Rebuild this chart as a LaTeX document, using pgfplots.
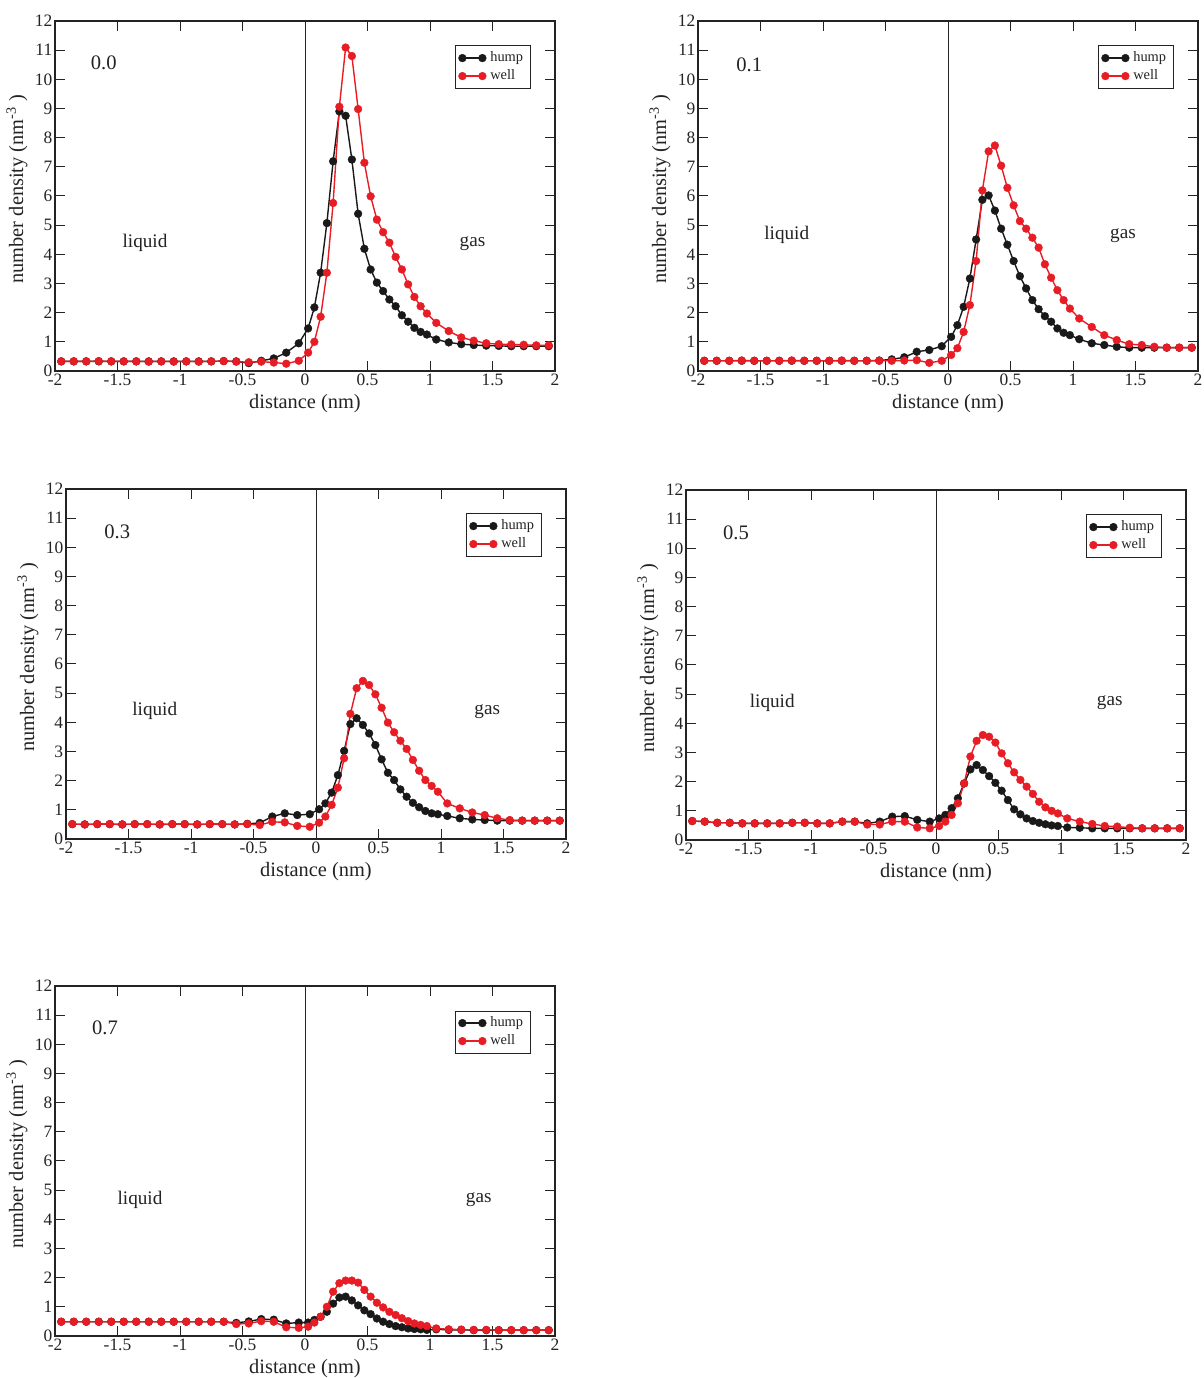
\documentclass[border=0pt]{standalone}
\usepackage{fontspec}
\setmainfont{Liberation Serif}
\usepackage{pgfplots}
\usepackage{pgfplotstable}
\pgfplotsset{compat=1.18}

\definecolor{myred}{RGB}{232,28,36}
\definecolor{myblack}{RGB}{25,25,25}
\definecolor{txt}{RGB}{35,35,35}

% panel 0.0
\pgfplotstableread{
x h w
-1.95 0.33 0.33
-1.85 0.33 0.33
-1.75 0.33 0.33
-1.65 0.33 0.34
-1.55 0.33 0.33
-1.45 0.33 0.33
-1.35 0.33 0.33
-1.25 0.33 0.32
-1.15 0.33 0.33
-1.05 0.33 0.32
-0.95 0.33 0.33
-0.85 0.33 0.32
-0.75 0.33 0.33
-0.65 0.34 0.34
-0.55 0.33 0.32
-0.45 0.27 0.30
-0.35 0.35 0.32
-0.25 0.43 0.29
-0.15 0.63 0.25
-0.05 0.95 0.35
0.025 1.46 0.63
0.075 2.18 1.00
0.125 3.37 1.86
0.175 5.07 3.37
0.225 7.19 5.76
0.275 8.90 9.06
0.325 8.75 11.09
0.375 7.25 10.80
0.425 5.39 8.98
0.475 4.19 7.14
0.525 3.48 5.99
0.575 3.03 5.19
0.625 2.74 4.76
0.675 2.45 4.40
0.725 2.22 3.91
0.775 1.91 3.48
0.825 1.69 2.97
0.875 1.48 2.54
0.925 1.34 2.22
0.975 1.25 1.97
1.05 1.08 1.65
1.15 0.98 1.37
1.25 0.92 1.15
1.35 0.89 1.04
1.45 0.87 0.95
1.55 0.86 0.92
1.65 0.85 0.91
1.75 0.85 0.90
1.85 0.85 0.88
1.95 0.85 0.88
}\tabA

% panel 0.1
\pgfplotstableread{
x h w
-1.95 0.35 0.35
-1.85 0.35 0.35
-1.75 0.35 0.35
-1.65 0.35 0.36
-1.55 0.35 0.35
-1.45 0.35 0.35
-1.35 0.35 0.35
-1.25 0.35 0.36
-1.15 0.35 0.35
-1.05 0.35 0.35
-0.95 0.35 0.35
-0.85 0.35 0.36
-0.75 0.35 0.35
-0.65 0.35 0.35
-0.55 0.36 0.35
-0.45 0.40 0.35
-0.35 0.47 0.36
-0.25 0.66 0.37
-0.15 0.72 0.28
-0.05 0.85 0.35
0.025 1.17 0.55
0.075 1.57 0.78
0.125 2.20 1.34
0.175 3.17 2.26
0.225 4.51 3.77
0.275 5.87 6.19
0.325 6.02 7.53
0.375 5.50 7.73
0.425 4.88 7.04
0.475 4.33 6.28
0.525 3.77 5.68
0.575 3.25 5.14
0.625 2.83 4.88
0.675 2.43 4.57
0.725 2.12 4.23
0.775 1.88 3.66
0.825 1.69 3.20
0.875 1.46 2.77
0.925 1.31 2.43
0.975 1.23 2.14
1.05 1.09 1.80
1.15 0.95 1.51
1.25 0.89 1.23
1.35 0.83 1.06
1.45 0.80 0.92
1.55 0.80 0.89
1.65 0.80 0.83
1.75 0.80 0.80
1.85 0.80 0.80
1.95 0.80 0.80
}\tabB

% panel 0.3
\pgfplotstableread{
x h w
-1.95 0.51 0.51
-1.85 0.50 0.50
-1.75 0.51 0.51
-1.65 0.51 0.51
-1.55 0.50 0.50
-1.45 0.51 0.51
-1.35 0.51 0.51
-1.25 0.50 0.50
-1.15 0.51 0.51
-1.05 0.51 0.51
-0.95 0.50 0.50
-0.85 0.51 0.51
-0.75 0.51 0.51
-0.65 0.50 0.50
-0.55 0.52 0.51
-0.45 0.55 0.48
-0.35 0.77 0.59
-0.25 0.88 0.57
-0.15 0.82 0.45
-0.05 0.85 0.42
0.025 1.02 0.56
0.075 1.22 0.77
0.125 1.59 1.17
0.175 2.19 1.76
0.225 3.02 2.77
0.275 3.94 4.29
0.325 4.14 5.17
0.375 3.91 5.42
0.425 3.62 5.28
0.475 3.22 4.96
0.525 2.73 4.50
0.575 2.27 3.99
0.625 2.02 3.66
0.675 1.70 3.37
0.725 1.45 3.09
0.775 1.24 2.71
0.825 1.09 2.34
0.875 0.96 2.02
0.925 0.88 1.82
0.975 0.85 1.62
1.05 0.79 1.22
1.15 0.71 1.05
1.25 0.67 0.91
1.35 0.65 0.82
1.45 0.63 0.71
1.55 0.63 0.65
1.65 0.63 0.63
1.75 0.63 0.63
1.85 0.63 0.63
1.95 0.63 0.63
}\tabC

% panel 0.5
\pgfplotstableread{
x h w
-1.95 0.65 0.65
-1.85 0.63 0.63
-1.75 0.59 0.59
-1.65 0.59 0.59
-1.55 0.57 0.57
-1.45 0.57 0.57
-1.35 0.57 0.57
-1.25 0.57 0.57
-1.15 0.59 0.59
-1.05 0.59 0.59
-0.95 0.57 0.57
-0.85 0.57 0.57
-0.75 0.63 0.63
-0.65 0.63 0.63
-0.55 0.57 0.53
-0.45 0.63 0.53
-0.35 0.80 0.63
-0.25 0.82 0.63
-0.15 0.69 0.43
-0.05 0.63 0.40
0.025 0.74 0.48
0.075 0.86 0.63
0.125 1.09 0.86
0.175 1.43 1.26
0.225 1.94 1.94
0.275 2.42 2.86
0.325 2.57 3.40
0.375 2.40 3.60
0.425 2.19 3.54
0.475 1.96 3.34
0.525 1.69 2.97
0.575 1.37 2.63
0.625 1.05 2.32
0.675 0.88 2.06
0.725 0.74 1.83
0.775 0.65 1.58
0.825 0.59 1.31
0.875 0.54 1.12
0.925 0.50 1.00
0.975 0.48 0.91
1.05 0.43 0.74
1.15 0.42 0.63
1.25 0.40 0.55
1.35 0.40 0.48
1.45 0.40 0.46
1.55 0.40 0.42
1.65 0.40 0.40
1.75 0.40 0.40
1.85 0.40 0.40
1.95 0.40 0.40
}\tabD

% panel 0.7
\pgfplotstableread{
x h w
-1.95 0.49 0.49
-1.85 0.49 0.49
-1.75 0.49 0.49
-1.65 0.49 0.49
-1.55 0.49 0.49
-1.45 0.49 0.49
-1.35 0.49 0.49
-1.25 0.49 0.49
-1.15 0.49 0.49
-1.05 0.49 0.49
-0.95 0.49 0.49
-0.85 0.49 0.49
-0.75 0.49 0.49
-0.65 0.49 0.49
-0.55 0.45 0.41
-0.45 0.50 0.43
-0.35 0.58 0.51
-0.25 0.56 0.49
-0.15 0.43 0.30
-0.05 0.46 0.28
0.025 0.46 0.32
0.075 0.55 0.46
0.125 0.66 0.66
0.175 0.83 1.00
0.225 1.11 1.52
0.275 1.32 1.81
0.325 1.35 1.90
0.375 1.22 1.90
0.425 1.05 1.83
0.475 0.88 1.58
0.525 0.75 1.35
0.575 0.60 1.14
0.625 0.49 0.98
0.675 0.41 0.83
0.725 0.34 0.72
0.775 0.30 0.61
0.825 0.26 0.51
0.875 0.24 0.43
0.925 0.23 0.38
0.975 0.21 0.34
1.05 0.23 0.26
1.15 0.21 0.23
1.25 0.21 0.22
1.35 0.20 0.21
1.45 0.20 0.21
1.55 0.20 0.20
1.65 0.20 0.20
1.75 0.20 0.20
1.85 0.20 0.20
1.95 0.20 0.20
}\tabE

\tikzset{
  lab/.style={font=\fontsize{9.6}{11}\selectfont, text=txt},
  tag/.style={font=\fontsize{10.3}{12}\selectfont, text=txt},
}

\pgfplotsset{
  panel/.style={
    scale only axis, width=250pt, height=175pt,
    anchor=south west,
    xmin=-2, xmax=2, ymin=0, ymax=12,
    xtick={-2,-1.5,-1,-0.5,0,0.5,1,1.5,2},
    xticklabels={-2,-1.5,-1,-0.5,0,0.5,1,1.5,2},
    ytick={0,1,...,12},
    /pgf/number format/assume math mode=true,
    tick align=inside, xtick pos=both, ytick pos=both,
    xticklabel pos=bottom, yticklabel pos=left,
    major tick length=5pt,
    tick style={line width=0.5pt, color=txt},
    axis line style={line width=0.6pt, color=txt},
    tick label style={font=\fontsize{8.7}{10}\selectfont, text=txt},
    yticklabel style={inner xsep=1.2pt},
    xticklabel style={inner ysep=1.5pt},
    label style={font=\fontsize{10.2}{12}\selectfont, text=txt},
    xlabel={distance (nm)},
    ylabel={number density (nm\textsuperscript{-3} )},
    xlabel style={at={(axis description cs:0.5,-0.092)}, anchor=center},
    ylabel style={at={(axis description cs:-0.076,0.52)}, anchor=center},
    legend style={at={(0.8,0.93)}, anchor=north west,
      font=\fontsize{7.2}{8}\selectfont, draw=txt, line width=0.5pt,
      inner xsep=1.5pt, inner ysep=0.8pt, row sep=-1.5pt,
      cells={anchor=west}, text=txt},
    legend image code/.code={%
      \draw[mark repeat=1,mark phase=1,#1] plot coordinates {(0pt,0pt) (10pt,0pt)};},
  },
  hump/.style={color=myblack, line width=0.7pt, mark=*, mark size=1.95pt,
    mark options={fill=myblack, draw=myblack, line width=0.2pt}},
  well/.style={color=myred, line width=0.7pt, mark=*, mark size=1.95pt,
    mark options={fill=myred, draw=myred, line width=0.2pt}},
  zline/.style={color=txt, line width=0.5pt, forget plot},
}

\begin{document}
\begin{tikzpicture}
\path[use as bounding box] (0,0) rectangle (602pt,689pt);

% 0.0
\begin{axis}[panel, at={(27.5pt,503.5pt)}]
\addplot[zline] coordinates {(0,0) (0,12)};
\addplot[hump] table[x=x,y=h] {\tabA};
\addplot[well] table[x=x,y=w] {\tabA};
\legend{hump,well}
\node[tag] at (axis cs:-1.61,10.56) {0.0};
\node[lab] at (axis cs:-1.28,4.38) {liquid};
\node[lab] at (axis cs:1.34,4.38) {gas};
\end{axis}

% 0.1
\begin{axis}[panel, at={(349pt,503.5pt)}]
\addplot[zline] coordinates {(0,0) (0,12)};
\addplot[hump] table[x=x,y=h] {\tabB};
\addplot[well] table[x=x,y=w] {\tabB};
\legend{hump,well}
\node[tag] at (axis cs:-1.59,10.5) {0.1};
\node[lab] at (axis cs:-1.29,4.68) {liquid};
\node[lab] at (axis cs:1.40,4.65) {gas};
\end{axis}

% 0.3
\begin{axis}[panel, at={(33pt,269.5pt)}]
\addplot[zline] coordinates {(0,0) (0,12)};
\addplot[hump] table[x=x,y=h] {\tabC};
\addplot[well] table[x=x,y=w] {\tabC};
\legend{hump,well}
\node[tag] at (axis cs:-1.59,10.52) {0.3};
\node[lab] at (axis cs:-1.29,4.39) {liquid};
\node[lab] at (axis cs:1.37,4.35) {gas};
\end{axis}

% 0.5
\begin{axis}[panel, at={(343pt,269pt)}]
\addplot[zline] coordinates {(0,0) (0,12)};
\addplot[hump] table[x=x,y=h] {\tabD};
\addplot[well] table[x=x,y=w] {\tabD};
\legend{hump,well}
\node[tag] at (axis cs:-1.60,10.52) {0.5};
\node[lab] at (axis cs:-1.31,4.70) {liquid};
\node[lab] at (axis cs:1.39,4.70) {gas};
\end{axis}

% 0.7
\begin{axis}[panel, at={(27.5pt,21pt)}]
\addplot[zline] coordinates {(0,0) (0,12)};
\addplot[hump] table[x=x,y=h] {\tabE};
\addplot[well] table[x=x,y=w] {\tabE};
\legend{hump,well}
\node[tag] at (axis cs:-1.60,10.56) {0.7};
\node[lab] at (axis cs:-1.32,4.66) {liquid};
\node[lab] at (axis cs:1.39,4.66) {gas};
\end{axis}
\end{tikzpicture}
\end{document}
